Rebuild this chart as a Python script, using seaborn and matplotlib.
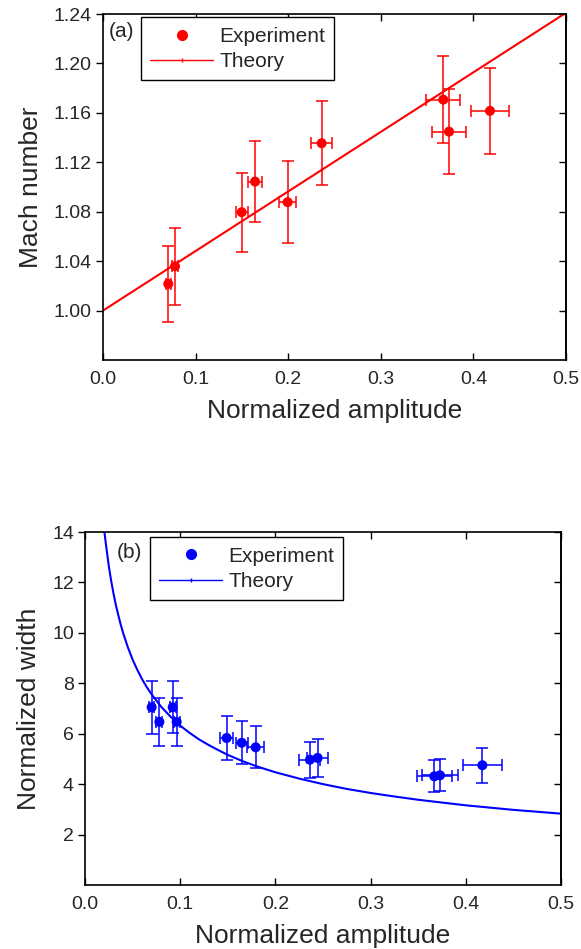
import matplotlib
matplotlib.use("Agg")
import matplotlib.pyplot as plt
import seaborn as sns
import pandas as pd
from matplotlib.lines import Line2D

# ---------------- Panel (a): Mach number ----------------
amp_a = [0.0705, 0.0778, 0.1498, 0.1642, 0.1994, 0.2361, 0.3675, 0.3737, 0.4179]
amp_a_err = [0.003, 0.003, 0.0065, 0.0075, 0.0094, 0.0117, 0.0182, 0.0187, 0.021]
mach = [1.0216, 1.0359, 1.0796, 1.1044, 1.0877, 1.1354, 1.1707, 1.1448, 1.1616]
mach_err = [0.031, 0.031, 0.032, 0.033, 0.033, 0.034, 0.035, 0.0345, 0.0348]
theory_a_x = [0.0, 0.5]
theory_a_y = [1.000, 1.241]

# ---------------- Panel (b): Normalized width ----------------
amp_b = [0.0700, 0.0781, 0.0921, 0.0963, 0.1488, 0.1646, 0.1793, 0.2363, 0.2444,
         0.3669, 0.3729, 0.4174]
amp_b_err = [0.003, 0.003, 0.003, 0.003, 0.0065, 0.0063, 0.009, 0.011, 0.011,
             0.0184, 0.0184, 0.0207]
width = [7.05, 6.47, 7.05, 6.47, 5.83, 5.64, 5.46, 4.97, 5.04, 4.31, 4.35, 4.75]
width_err = [1.05, 0.96, 1.04, 0.96, 0.86, 0.85, 0.83, 0.72, 0.76, 0.63, 0.64, 0.70]
theory_b_x = [0.0204, 0.022, 0.025, 0.0275, 0.03, 0.0325, 0.035, 0.0375, 0.04,
              0.045, 0.05, 0.055, 0.06, 0.065, 0.07, 0.08, 0.09, 0.10, 0.11,
              0.12, 0.13, 0.14, 0.15, 0.165, 0.18, 0.2, 0.225, 0.25, 0.275, 0.3,
              0.325, 0.35, 0.375, 0.4, 0.45, 0.5]
theory_b_y = [14.0, 13.5, 12.65, 12.06, 11.55, 11.09, 10.7, 10.33, 10.0,
              9.43, 8.94, 8.53, 8.16, 7.84, 7.56, 7.07, 6.67, 6.32, 6.03,
              5.77, 5.55, 5.35, 5.16, 4.92, 4.71, 4.47, 4.22, 4.0, 3.81, 3.65,
              3.51, 3.38, 3.27, 3.16, 2.98, 2.83]

x_ticks = [0.0, 0.1, 0.2, 0.3, 0.4, 0.5]
ya_ticks = [1.00, 1.04, 1.08, 1.12, 1.16, 1.20, 1.24]
yb_ticks = [2, 4, 6, 8, 10, 12, 14]

sns.set_theme(style="white")
plt.rcParams["font.family"] = ["Liberation Sans", "DejaVu Sans"]
plt.rcParams["axes.edgecolor"] = "black"
plt.rcParams["axes.linewidth"] = 1.2

W, H = 581, 949
fig = plt.figure(figsize=(W / 100, H / 100), dpi=100)
ax1 = fig.add_axes([103 / W, 1 - 360 / H, 463 / W, 346 / H])
ax2 = fig.add_axes([85 / W, 1 - 885 / H, 476 / W, 353 / H])


def draw_panel(ax, x, xerr, y, yerr, tx, ty, color, ylim, yticks, yfmt, ylabel,
               tag, tagpos, legpos):
    df = pd.DataFrame({"x": x, "y": y})
    dft = pd.DataFrame({"x": tx, "y": ty})
    sns.lineplot(data=dft, x="x", y="y", color=color, lw=1.5, ax=ax, zorder=2,
                 sort=False)
    ax.errorbar(x, y, xerr=xerr, yerr=yerr, fmt="none", ecolor=color,
                elinewidth=1.1, capsize=4.0, capthick=1.1, zorder=3)
    sns.scatterplot(data=df, x="x", y="y", color=color, s=52, edgecolor="none",
                    ax=ax, zorder=4)
    ax.set_xlim(0, 0.5)
    ax.set_ylim(*ylim)
    ax.set_xticks(x_ticks)
    ax.set_xticklabels([f"{v:.1f}" for v in x_ticks])
    ax.set_yticks(yticks)
    ax.set_yticklabels([yfmt.format(v) for v in yticks])
    ax.tick_params(axis="x", direction="in", top=True, bottom=True, length=5,
                   width=1, labelsize=14, pad=8, color="black")
    ax.tick_params(axis="y", direction="out", left=True, length=5, width=1,
                   labelsize=14, pad=3, color="black")
    sec = ax.secondary_yaxis("right")
    sec.set_yticks(yticks)
    sec.tick_params(axis="y", direction="in", length=5, width=1,
                    labelright=False, color="black")
    sec.spines["right"].set_linewidth(1.2)
    ax.set_xlabel("Normalized amplitude", fontsize=19, labelpad=8)
    ax.set_ylabel(ylabel, fontsize=19, labelpad=8)
    ax.text(tagpos[0], tagpos[1], tag, transform=ax.transAxes, fontsize=15,
            ha="left", va="center")
    handles = [
        Line2D([], [], ls="none", marker="o", color=color, markersize=7),
        Line2D([], [], color=color, lw=1.0, marker="|", markersize=3),
    ]
    leg = ax.legend(handles, ["Experiment", "Theory"], loc="upper left",
                    bbox_to_anchor=legpos, borderaxespad=0, fontsize=15,
                    frameon=True, fancybox=False, framealpha=1,
                    edgecolor="black", handlelength=3.0, handletextpad=0.3,
                    borderpad=0.45, labelspacing=0.3, numpoints=1)
    leg.get_frame().set_linewidth(1.0)
    for s in ax.spines.values():
        s.set_color("black")
        s.set_linewidth(1.2)


draw_panel(ax1, amp_a, amp_a_err, mach, mach_err, theory_a_x, theory_a_y,
           "#ff0000", (0.96, 1.24), ya_ticks, "{:.2f}", "Mach number", "(a)",
           (0.013, 0.948), (0.082, 0.990))
draw_panel(ax2, amp_b, amp_b_err, width, width_err, theory_b_x, theory_b_y,
           "#0000ff", (0, 14), yb_ticks, "{:d}", "Normalized width", "(b)",
           (0.067, 0.943), (0.1366, 0.985))

fig.savefig("out.png", dpi=100)
